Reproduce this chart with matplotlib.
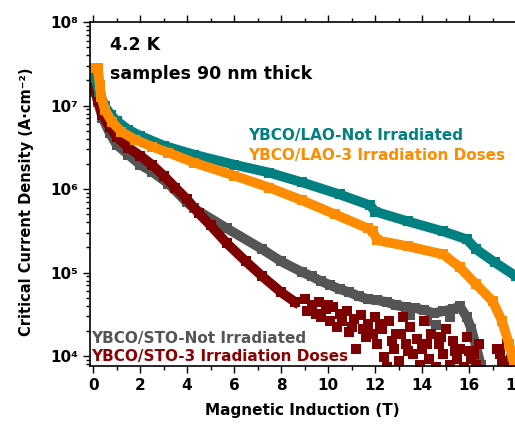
# Jc vs B, YBCO films on LAO / STO
import matplotlib
matplotlib.use("Agg")
from matplotlib import pyplot as plt
from matplotlib.ticker import FixedLocator, LogLocator, NullFormatter

# ---- data (B in T, Jc in A/cm2) ----
lao_b = [0, 0.1, 0.25, 0.5, 0.75, 1.0, 1.5, 2.0, 3.0, 4.3, 6.0, 7.5, 8.9, 10.5, 11.8, 12.0,
         13.4, 14.9, 15.9, 16.3, 17.1, 18.0, 18.4]
lao_j = [2.67e7, 2.14e7, 1.46e7, 9.93e6, 7.76e6, 6.58e6, 5.13e6, 4.35e6, 3.31e6, 2.58e6, 1.96e6,
         1.57e6, 1.20e6, 8.6e5, 6.35e5, 5.38e5, 4.09e5, 3.11e5, 2.50e5, 1.90e5, 1.32e5, 9.0e4, 7.4e4]

lao3_b = [0, 0.2, 0.28, 0.35, 0.5, 0.8, 1.2, 1.8, 2.5, 3.2, 4.3, 6.0, 7.5, 8.9, 10.3, 11.7, 11.9,
          12.1, 13.4, 14.9, 15.6, 16.3, 17.0, 17.4, 17.7, 17.9, 18.1]
lao3_j = [2.82e7, 2.82e7, 1.77e7, 1.27e7, 8.9e6, 6.4e6, 4.86e6, 3.90e6, 3.22e6, 2.73e6, 2.07e6,
          1.45e6, 1.04e6, 7.3e5, 4.97e5, 3.37e5, 3.11e5, 2.43e5, 2.06e5, 1.65e5, 1.16e5, 7.2e4,
          4.54e4, 2.62e4, 1.39e4, 8.7e3, 6.6e3]

sto_b = [0, 0.1, 0.2, 0.4, 0.7, 1.0, 1.5, 2.0, 2.5, 3.2, 4.0, 4.3, 5.7, 7.2, 8.0, 8.9,
         9.3, 9.7, 10.1, 10.5, 10.9, 11.3, 11.7, 12.1, 12.5, 12.9, 13.3, 13.7, 14.1, 14.5,
         14.9, 15.3, 15.6, 15.9, 16.1, 16.3, 16.5]
sto_j = [2.14e7, 1.46e7, 1.11e7, 7.14e6, 4.73e6, 3.40e6, 2.58e6, 1.96e6, 1.62e6, 1.16e6, 6.9e5,
         5.85e5, 3.37e5, 1.90e5, 1.36e5, 1.01e5,
         9.0e4, 7.87e4, 7.05e4, 6.31e4, 5.81e4, 5.20e4, 4.80e4, 4.67e4, 4.42e4, 4.06e4, 3.85e4,
         3.74e4, 3.54e4, 3.26e4, 3.45e4, 3.64e4, 3.95e4, 2.92e4, 2.10e4, 1.28e4, 7.8e3]
# scattered points of the grey set
sto_scat_b = [13.5, 14.2, 14.6, 15.2, 17.8, 18.0]
sto_scat_j = [3.09e4, 2.62e4, 2.35e4, 2.92e4, 9.2e3, 8.2e3]

sto3_b = [0, 0.1, 0.2, 0.4, 0.7, 1.0, 1.5, 2.0, 2.5, 3.0, 3.5, 4.0, 4.5, 5.0, 5.7, 6.5, 7.2, 8.0, 8.6]
sto3_j = [2.03e7, 1.54e7, 1.17e7, 7.76e6, 5.57e6, 4.24e6, 3.13e6, 2.51e6, 1.96e6, 1.45e6, 1.04e6,
          7.5e5, 5.1e5, 3.66e5, 2.23e5, 1.36e5, 9.0e4, 5.81e4, 4.42e4]
# noisy tail of the dark red set
sto3_scat_b = [9.0, 9.3, 9.6, 9.9, 10.2, 10.5, 10.8, 11.1, 11.4, 11.7, 12.0, 12.3, 12.6, 12.9, 13.2,
               13.5, 13.8, 14.1, 14.4, 14.7, 15.0, 15.3, 15.6, 15.9, 16.2, 16.4,
               9.5, 10.1, 10.4, 10.9, 11.2, 11.6, 12.1, 12.4, 12.5, 12.8, 13.0, 13.3, 13.6, 13.9,
               14.0, 14.3, 14.6, 14.9, 15.2, 15.5, 15.8, 16.0, 16.3, 17.2, 17.4, 17.6, 17.7,
               9.1, 9.7, 10.0, 10.6, 11.0, 11.5, 11.9, 12.2, 12.7, 13.1, 13.4, 14.2, 14.8, 15.4,
               16.1, 17.3]
sto3_scat_j = [4.80e4, 4.06e4, 4.42e4, 3.64e4, 3.85e4, 3.17e4, 3.45e4, 2.77e4, 3.09e4, 2.41e4,
               2.92e4, 2.10e4, 2.62e4, 1.83e4, 2.92e4, 2.22e4, 1.60e4, 2.62e4, 1.83e4, 1.39e4,
               2.10e4, 1.51e4, 1.21e4, 1.69e4, 1.06e4, 1.39e4,
               3.17e4, 2.62e4, 2.22e4, 1.94e4, 1.21e4, 1.69e4, 1.39e4, 9.7e3, 7.4e3, 1.21e4,
               8.7e3, 1.39e4, 1.06e4, 7.8e3, 1.21e4, 9.2e3, 7.4e3, 1.06e4, 7.8e3, 9.2e3, 7.4e3,
               1.15e4, 7.8e3, 1.21e4, 8.7e3, 1.39e4, 7.4e3,
               3.45e4, 2.92e4, 4.06e4, 2.62e4, 2.22e4, 2.10e4, 1.83e4, 2.41e4, 1.51e4, 1.83e4,
               1.15e4, 1.39e4, 1.69e4, 1.15e4, 9.2e3, 1.06e4]

c_lao = "#008080"
c_lao3 = "#ff8c00"
c_sto = "#555555"
c_sto3 = "#7f0000"

plt.rcParams['font.family'] = ['DejaVu Sans']
plt.rcParams['font.weight'] = 'bold'

fig = plt.figure(figsize=(5.15, 4.24), dpi=100)
ax = fig.add_axes([0.1748, 0.1368, 0.8456, 0.8113])

lw = 7
ms = 6.5
ax.plot(sto_b, sto_j, "-s", color=c_sto, lw=lw, ms=ms, mew=0)
ax.plot(sto_scat_b, sto_scat_j, "s", color=c_sto, ms=ms, mew=0)
ax.plot(sto3_b, sto3_j, "-s", color=c_sto3, lw=lw, ms=ms, mew=0)
ax.plot(sto3_scat_b, sto3_scat_j, "s", color=c_sto3, ms=ms, mew=0)
ax.plot(lao_b, lao_j, "-s", color=c_lao, lw=lw, ms=ms, mew=0)
ax.plot(lao3_b, lao3_j, "-s", color=c_lao3, lw=lw, ms=ms, mew=0)

ax.set_yscale("log")
ax.set_xlim(-0.13, 18.4)
ax.set_ylim(7.6e3, 1e8)

ax.xaxis.set_major_locator(FixedLocator([0, 2, 4, 6, 8, 10, 12, 14, 16, 18]))
ax.xaxis.set_minor_locator(FixedLocator([1, 3, 5, 7, 9, 11, 13, 15, 17]))
ax.set_yticks([1e4, 1e5, 1e6, 1e7, 1e8])
ax.set_yticklabels(["10⁴", "10⁵", "10⁶", "10⁷", "10⁸"])
ax.yaxis.set_minor_locator(LogLocator(base=10, subs=range(2, 10), numticks=20))
ax.yaxis.set_minor_formatter(NullFormatter())

ax.tick_params(which="both", direction="out", top=True, right=False, width=1, labelsize=11)
ax.tick_params(which="major", length=5)
ax.tick_params(which="minor", length=3)
for s in ax.spines.values():
    s.set_linewidth(1.2)

ax.set_xlabel("Magnetic Induction (T)", fontsize=11, fontweight="bold")
ax.set_ylabel("Critical Current Density (A·cm⁻²)", fontsize=10.5, fontweight="bold")
ax.xaxis.set_label_coords(0.487, -0.108)
ax.yaxis.set_label_coords(-0.128, 0.477)

ax.text(0.046, 0.919, "4.2 K", transform=ax.transAxes, fontsize=12.5, fontweight="bold")
ax.text(0.046, 0.834, "samples 90 nm thick", transform=ax.transAxes, fontsize=12.5, fontweight="bold")
ax.text(0.363, 0.657, "YBCO/LAO-Not Irradiated", transform=ax.transAxes, fontsize=11,
        fontweight="bold", color=c_lao)
ax.text(0.363, 0.599, "YBCO/LAO-3 Irradiation Doses", transform=ax.transAxes, fontsize=11,
        fontweight="bold", color=c_lao3)
ax.text(0.003, 0.067, "YBCO/STO-Not Irradiated", transform=ax.transAxes, fontsize=11,
        fontweight="bold", color=c_sto)
ax.text(0.003, 0.0145, "YBCO/STO-3 Irradiation Doses", transform=ax.transAxes, fontsize=11,
        fontweight="bold", color="#8b0000")

fig.savefig("out.png", dpi=100)
